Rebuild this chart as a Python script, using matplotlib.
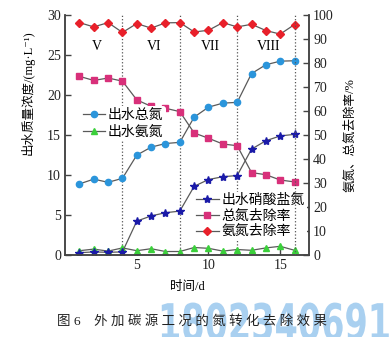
import matplotlib
matplotlib.use('Agg')
import matplotlib.pyplot as plt
from matplotlib.textpath import TextPath
from matplotlib.patches import PathPatch
from matplotlib.font_manager import FontProperties
from matplotlib.transforms import Affine2D

plt.rcParams['font.family'] = ['Liberation Serif', 'Noto Sans CJK SC', 'DejaVu Serif']

# 数据 (时间/d)
days = list(range(1, 17))
tn_out = [8.9, 9.5, 9.1, 9.6, 12.5, 13.5, 13.95, 14.1, 17.25, 18.5, 19.0, 19.1, 22.7, 23.8, 24.25, 24.3]
nh4_out = [0.55, 0.75, 0.5, 0.9, 0.55, 0.8, 0.45, 0.45, 0.95, 0.85, 0.5, 0.7, 0.6, 0.9, 1.1, 0.6]
no3_out = [0.3, 0.4, 0.35, 0.4, 4.25, 4.9, 5.3, 5.5, 8.6, 9.45, 9.8, 9.95, 13.25, 14.3, 14.9, 15.1]
tn_rate = [74.5, 72.8, 73.8, 72.5, 64.7, 62.0, 61.2, 59.8, 50.9, 48.7, 46.3, 45.6, 34.4, 33.5, 31.3, 30.5]
nh4_rate = [96.9, 95.1, 96.9, 92.8, 96.5, 94.6, 96.8, 96.9, 93.0, 93.7, 96.9, 95.1, 96.2, 93.6, 92.1, 96.1]
stage_bounds = [4, 8, 12, 16]
stages = ['V', 'VI', 'VII', 'VIII']
stage_x = [2.2, 6.2, 10.1, 14.2]

line_c = '#5a5a5a'

fig = plt.figure(figsize=(3.92, 3.37), dpi=100)
ax = fig.add_axes([0.166, 0.243, 0.622, 0.712])
ax2 = ax.twinx()

for b in stage_bounds[:3]:
    ax.axvline(b, color='#555555', ls=':', lw=0.9)
ax2.axvline(stage_bounds[3], color='#555555', ls=':', lw=0.9, zorder=6)

h1, = ax.plot(days, tn_out, color=line_c, lw=0.9, marker='o', ms=4.5,
              mfc='#2B95DB', mec='#2B95DB', label='出水总氮')
h2, = ax.plot(days, nh4_out, color=line_c, lw=0.9, marker='^', ms=4.5,
              mfc='#3BD03B', mec='#3BD03B', label='出水氨氮')
h3, = ax.plot(days, no3_out, color=line_c, lw=0.9, marker='*', ms=6,
              mfc='#1A1AA8', mec='#1A1AA8', label='出水硝酸盐氮')
h4, = ax2.plot(days, tn_rate, color=line_c, lw=0.9, marker='s', ms=4.2,
               mfc='#D8307A', mec='#D8307A', label='总氮去除率')
h5, = ax2.plot(days, nh4_rate, color=line_c, lw=0.9, marker='D', ms=4,
               mfc='#E8202A', mec='#E8202A', label='氨氮去除率')

for sx, s in zip(stage_x, stages):
    ax.text(sx, 26.1, s, ha='center', va='center', fontsize=10)

ax.set_xlim(0, 17)
ax.set_ylim(0, 30)
ax2.set_ylim(0, 100)
ax.set_xticks([5, 10, 15])
ax.set_yticks(range(0, 31, 5))
ax2.set_yticks(range(0, 101, 10))

for a in (ax, ax2):
    a.spines['top'].set_visible(False)
    for sp in a.spines.values():
        sp.set_color('#444444')
        sp.set_linewidth(1.1)
    a.tick_params(direction='in', length=4, width=1, colors='#444444',
                  labelcolor='#222222', labelsize=10, pad=3)

ax.set_xlabel('时间/d', fontsize=9, labelpad=6)
ax.set_ylabel('出水质量浓度/(mg·L⁻¹)', fontsize=9)
ax.yaxis.set_label_coords(-0.125, 0.675)
ax2.set_ylabel('氨氮、总氮去除率/%', fontsize=9, rotation=90)
ax2.yaxis.set_label_coords(1.145, 0.5)

leg1 = ax2.legend(handles=[h1, h2], loc='upper left', bbox_to_anchor=(0.065, 0.62),
                  frameon=True, framealpha=1, edgecolor='none', fontsize=10,
                  handlelength=1.6, handletextpad=0.2, labelspacing=0.3,
                  borderpad=0.15, borderaxespad=0)
ax2.add_artist(leg1)
ax2.legend(handles=[h3, h4, h5], loc='upper left', bbox_to_anchor=(0.53, 0.265),
           frameon=True, framealpha=1, edgecolor='none', fontsize=10,
           handlelength=1.6, handletextpad=0.2, labelspacing=0.2,
           borderpad=0.15, borderaxespad=0)

# 水印
wm = TextPath((0, 0), '18023406916', size=1,
              prop=FontProperties(family='DejaVu Sans', weight='bold'))
tr = Affine2D().scale(33.5 / 392, 50.5 / 337).translate(158 / 392, -3 / 337) + fig.transFigure
fig.add_artist(PathPatch(wm, transform=tr, facecolor='#a9d0f0', edgecolor='none', zorder=1))

fig.text(0.49, 0.045, '图 6    外 加 碳 源 工 况 的 氮 转 化 去 除 效 果',
         ha='center', va='center', fontsize=9.7, color='#222222', zorder=3)

fig.savefig('out.png', dpi=100)
